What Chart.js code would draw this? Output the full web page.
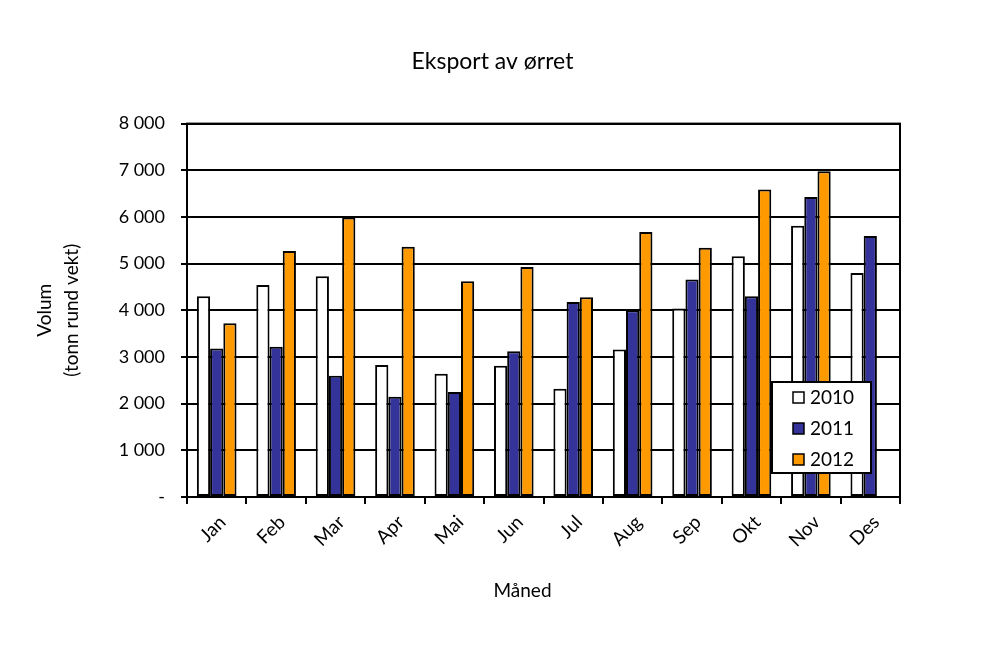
<!DOCTYPE html>
<html>
<head>
<meta charset="utf-8">
<title>Eksport av ørret</title>
<script src="https://cdn.jsdelivr.net/npm/chart.js@4.4.1/dist/chart.umd.min.js"></script>
<style>
  html, body { margin: 0; padding: 0; background: #fff; }
  canvas { display: block; }
</style>
</head>
<body>
<canvas id="chart" width="985" height="646"></canvas>
<script>
// Data (tonn rund vekt)
const months = ["Jan", "Feb", "Mar", "Apr", "Mai", "Jun", "Jul", "Aug", "Sep", "Okt", "Nov", "Des"];
const years = ["2010", "2011", "2012"];
const volum2010 = [4300, 4540, 4730, 2830, 2640, 2810, 2320, 3160, 4040, 5160, 5810, 4800];
const volum2011 = [3180, 3220, 2600, 2150, 2250, 3120, 4180, 4000, 4660, 4300, 6430, 5590];
const volum2012 = [3720, 5270, 5990, 5360, 4620, 4930, 4280, 5680, 5340, 6590, 6980, null];
const yTicks = [0, 1000, 2000, 3000, 4000, 5000, 6000, 7000, 8000];

const colors = ["#FFFFFF", "#333399", "#FF9900"];
const FONT = "Lato, 'Open Sans', 'Liberation Sans', sans-serif";

// Format numbers like "8 000", zero shown as "-"
function formatTick(value) {
  if (value === 0) return "-";
  return String(value).replace(/\B(?=(\d{3})+(?!\d))/g, " ");
}

// Plot area border, plus the x axis title (sits a bit left of the plot centre)
const plotBorder = {
  id: "plotBorder",
  afterDatasetsDraw(chart) {
    const { ctx, chartArea } = chart;
    ctx.save();
    ctx.strokeStyle = "#000";
    ctx.lineWidth = 2;
    ctx.strokeRect(chartArea.left, chartArea.top, chartArea.right - chartArea.left, chartArea.bottom - chartArea.top);
    ctx.fillStyle = "#000";
    ctx.font = "19px " + FONT;
    ctx.textAlign = "center";
    ctx.textBaseline = "middle";
    ctx.fillText("Måned", (chartArea.left + chartArea.right) / 2 - 21, chartArea.bottom + 94);
    ctx.restore();
  }
};

// Legend box inside the plot area, bottom right
const insideLegend = {
  id: "insideLegend",
  afterDraw(chart) {
    const { ctx, chartArea } = chart;
    const left = chartArea.right - 128;
    const top = chartArea.bottom - 115;
    ctx.save();
    ctx.fillStyle = "#fff";
    ctx.fillRect(left, top, 99, 91);
    ctx.strokeStyle = "#000";
    ctx.lineWidth = 2;
    ctx.strokeRect(left, top, 99, 91);
    ctx.font = "19px " + FONT;
    ctx.textBaseline = "middle";
    chart.data.datasets.forEach((ds, i) => {
      const cy = top + 15 + i * 31;
      ctx.fillStyle = ds.backgroundColor;
      ctx.fillRect(left + 21, cy - 5, 11, 11);
      ctx.lineWidth = 1.5;
      ctx.strokeRect(left + 21, cy - 5, 11, 11);
      ctx.fillStyle = "#000";
      ctx.fillText(ds.label, left + 38, cy + 1);
    });
    ctx.restore();
  }
};

const datasets = [volum2010, volum2011, volum2012].map((values, i) => ({
  label: years[i],
  data: values,
  backgroundColor: colors[i],
  borderColor: "#000",
  borderWidth: 2,
  borderSkipped: false,
  categoryPercentage: 0.667,
  barPercentage: 1.0
}));

new Chart(document.getElementById("chart").getContext("2d"), {
  type: "bar",
  data: { labels: months, datasets: datasets },
  options: {
    responsive: false,
    animation: false,
    layout: { padding: 0 },
    plugins: {
      legend: { display: false },
      tooltip: { enabled: false },
      title: {
        display: true,
        text: "Eksport av ørret",
        color: "#000",
        font: { family: FONT, size: 23, weight: "normal" },
        padding: { top: 48, bottom: 48 }
      }
    },
    scales: {
      x: {
        afterFit(scale) { scale.height = 149; },
        border: { color: "#000", width: 2 },
        grid: { drawOnChartArea: false, drawTicks: true, tickLength: 7, color: "#000", lineWidth: 2 },
        ticks: {
          color: "#000",
          font: { family: FONT, size: 19 },
          minRotation: 45,
          maxRotation: 45,
          labelOffset: 6,
          padding: 7
        }
      },
      y: {
        min: 0,
        max: 8000,
        afterFit(scale) { scale.width = 187; },
        afterBuildTicks(scale) { scale.ticks = yTicks.map(v => ({ value: v })); },
        border: { color: "#000", width: 2 },
        grid: { color: "#000", lineWidth: 2, drawTicks: true, tickLength: 6 },
        ticks: {
          color: "#000",
          font: { family: FONT, size: 18 },
          padding: 16,
          callback: formatTick
        },
        title: {
          display: true,
          text: ["Volum", "(tonn rund vekt)"],
          color: "#000",
          font: { family: FONT, size: 19, lineHeight: 1.42 },
          padding: { top: 31, bottom: 0 }
        }
      },
      // empty right-hand axis: keeps space right of the plot so the title stays centred on the page
      yRight: {
        position: "right",
        afterFit(scale) { scale.width = 85; },
        grid: { display: false },
        border: { display: false },
        ticks: { display: false }
      }
    }
  },
  plugins: [plotBorder, insideLegend]
});
</script>
</body>
</html>
